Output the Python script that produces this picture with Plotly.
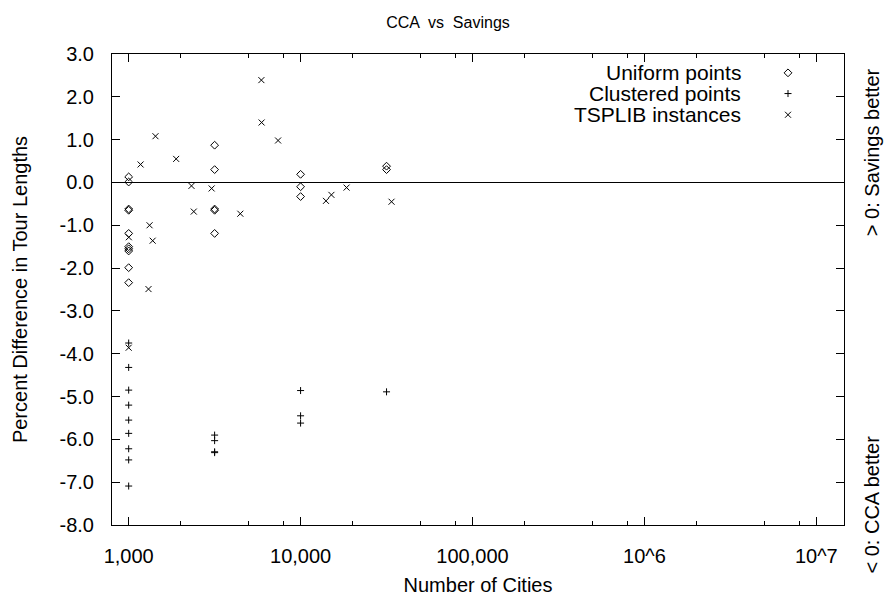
import plotly.graph_objects as go

# ---------------- data ----------------
uniform_n = [1000] * 10 + [3162] * 5 + [10000] * 3 + [31623] * 2
uniform_pct = [0.13, 0.01, -0.62, -0.65, -1.19, -1.50, -1.55, -1.60, -1.99, -2.34,
               0.87, 0.30, -0.62, -0.65, -1.19,
               0.19, -0.10, -0.33,
               0.38, 0.30]

clustered_n = [1000] * 9 + [3162] * 4 + [10000] * 3 + [31623]
clustered_pct = [-3.75, -4.32, -4.85, -5.20, -5.55, -5.86, -6.22, -6.48, -7.09,
                 -5.90, -6.03, -6.29, -6.31,
                 -4.86, -5.45, -5.62,
                 -4.89]

tsplib_n = [1000, 1002, 1173, 1304, 1323, 1379, 1432, 1889, 2319, 2392, 3038,
            4461, 5915, 5934, 7397, 14051, 15112, 18512, 33810]
tsplib_pct = [-3.86, -1.28, 0.42, -2.49, -1.00, -1.36, 1.08, 0.55, -0.08, -0.68,
              -0.14, -0.73, 2.39, 1.40, 0.98, -0.43, -0.29, -0.12, -0.45]

x_tickvals = [1e3, 1e4, 1e5, 1e6, 1e7]
x_ticktext = ["1,000", "10,000", "100,000", "10^6", "10^7"]
x_minorvals = [2e3, 5e3, 8e3, 2e4, 5e4, 8e4, 2e5, 5e5, 8e5, 2e6, 5e6, 8e6]
y_tickvals = [3, 2, 1, 0, -1, -2, -3, -4, -5, -6, -7, -8]
y_ticktext = ["3.0", "2.0", "1.0", "0.0", "-1.0", "-2.0", "-3.0", "-4.0",
              "-5.0", "-6.0", "-7.0", "-8.0"]

legend_labels = ["Uniform points", "Clustered points", "TSPLIB instances"]
symbols = ["diamond-open", "cross-thin-open", "x-thin-open"]
sizes = [6, 5, 6]

FONT = "Liberation Sans"
FS = 20
FS_KEY = 21
FS_TITLE = 16

fig = go.Figure()
series = [(uniform_n, uniform_pct), (clustered_n, clustered_pct), (tsplib_n, tsplib_pct)]
for (xs, ys), sym, sz, name in zip(series, symbols, sizes, legend_labels):
    fig.add_trace(go.Scatter(
        x=xs, y=ys, mode="markers", name=name, showlegend=False,
        marker=dict(symbol=sym, size=sz, color="black",
                    line=dict(color="black", width=1)),
    ))

# gnuplot-style key: text right-aligned, symbol to its right
key_rows = [0.960, 0.916, 0.871]
for row, sym, sz, name in zip(key_rows, symbols, sizes, legend_labels):
    fig.add_trace(go.Scatter(
        x=[0.9235], y=[row], xaxis="x2", yaxis="y2", mode="markers",
        showlegend=False, hoverinfo="skip",
        marker=dict(symbol=sym, size=sz, color="black",
                    line=dict(color="black", width=1)),
    ))
    fig.add_annotation(x=0.862, y=row, xref="paper", yref="paper",
                       text=name, showarrow=False, xanchor="right",
                       yanchor="middle",
                       font=dict(family=FONT, size=FS_KEY, color="black"))

fig.update_layout(
    width=896, height=604,
    margin=dict(l=112, r=52, t=54, b=64),
    paper_bgcolor="white", plot_bgcolor="white",
    font=dict(family=FONT, size=FS, color="black"),
    showlegend=False,
    title=dict(text="CCA  vs  Savings", x=0.5, xanchor="center", y=0.963,
               yanchor="middle",
               font=dict(family=FONT, size=FS_TITLE, color="black")),
    xaxis=dict(
        type="log", range=[2.903, 7.161],
        tickvals=x_tickvals, ticktext=x_ticktext,
        ticks="inside", ticklen=8, tickwidth=1, tickcolor="black",
        minor=dict(tickvals=x_minorvals, ticks="inside", ticklen=4,
                   tickwidth=1, tickcolor="black", showgrid=False),
        showline=True, linecolor="black", linewidth=1, mirror="allticks",
        showgrid=False, zeroline=False,
        ticklabelstandoff=13,
        title=dict(text="Number of Cities", standoff=11,
                   font=dict(family=FONT, size=FS)),
    ),
    yaxis=dict(
        range=[-8, 3],
        tickvals=y_tickvals, ticktext=y_ticktext,
        ticks="inside", ticklen=8, tickwidth=1, tickcolor="black",
        showline=True, linecolor="black", linewidth=1, mirror="allticks",
        showgrid=False, zeroline=True, zerolinecolor="black", zerolinewidth=1,
        ticklabelstandoff=13,
        title=dict(text="Percent Difference in Tour Lengths", standoff=26,
                   font=dict(family=FONT, size=FS)),
    ),
    xaxis2=dict(overlaying="x", range=[0, 1], visible=False, fixedrange=True),
    yaxis2=dict(overlaying="y", range=[0, 1], visible=False, fixedrange=True),
)

gap = "\u00a0" * 36
fig.add_annotation(
    x=1.0, xref="paper", xshift=27, y=0.5, yref="paper", yshift=-32,
    text="< 0: CCA better" + gap + "> 0: Savings better",
    textangle=-90, showarrow=False, xanchor="center", yanchor="middle",
    font=dict(family=FONT, size=FS, color="black"),
)

fig.write_html("out.html")
